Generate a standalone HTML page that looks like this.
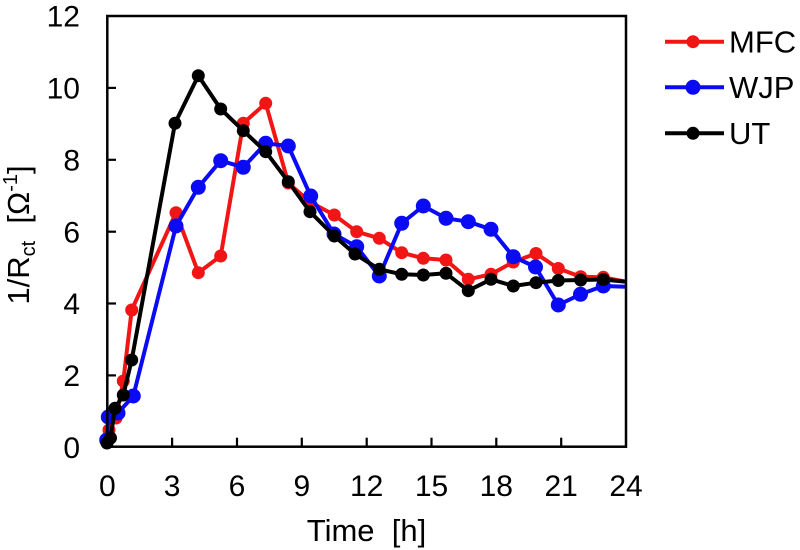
<!DOCTYPE html>
<html><head><meta charset="utf-8"><style>
html,body{margin:0;padding:0;background:#fff;}
svg{display:block;}
text{font-family:"Liberation Sans",Arial,sans-serif;fill:#000;}
</style></head><body>
<svg width="800" height="550" viewBox="0 0 800 550" xmlns="http://www.w3.org/2000/svg">
<rect x="0" y="0" width="800" height="550" fill="#fff"/>
<!-- series MFC -->
<g fill="#f21515" stroke="#f21515">
<polyline fill="none" stroke-width="4" stroke-linejoin="round" points="107,440 109,430 116,418 123.3,381 131.7,310 176,212.7 198.3,272.7 220.7,256 243.3,123.3 265.7,103.3 288.3,183 310,202 334.3,215 356.7,231.7 379.3,238.3 401.7,252.7 423.3,258.3 446,260 468.3,279.3 491,274.3 513.3,262 536,253.5 558.3,268.5 580.7,276.7 603.3,277.3 626,281.7"/>
<g stroke="none">
<circle cx="107" cy="440" r="6.5"/><circle cx="109" cy="430" r="6.5"/><circle cx="116" cy="418" r="6.5"/><circle cx="123.3" cy="381" r="6.5"/><circle cx="131.7" cy="310" r="6.5"/><circle cx="176" cy="212.7" r="6.5"/><circle cx="198.3" cy="272.7" r="6.5"/><circle cx="220.7" cy="256" r="6.5"/><circle cx="243.3" cy="123.3" r="6.5"/><circle cx="265.7" cy="103.3" r="6.5"/><circle cx="288.3" cy="183" r="6.5"/><circle cx="310" cy="202" r="6.5"/><circle cx="334.3" cy="215" r="6.5"/><circle cx="356.7" cy="231.7" r="6.5"/><circle cx="379.3" cy="238.3" r="6.5"/><circle cx="401.7" cy="252.7" r="6.5"/><circle cx="423.3" cy="258.3" r="6.5"/><circle cx="446" cy="260" r="6.5"/><circle cx="468.3" cy="279.3" r="6.5"/><circle cx="491" cy="274.3" r="6.5"/><circle cx="513.3" cy="262" r="6.5"/><circle cx="536" cy="253.5" r="6.5"/><circle cx="558.3" cy="268.5" r="6.5"/><circle cx="580.7" cy="276.7" r="6.5"/><circle cx="603.3" cy="277.3" r="6.5"/>
</g></g>
<!-- series WJP -->
<g fill="#0a0af5" stroke="#0a0af5">
<polyline fill="none" stroke-width="4" stroke-linejoin="round" points="106.7,440 108.3,417 118,413 133.3,396 176,226 198.3,187.3 220.7,160.7 243.3,167.3 265.7,143.3 288.3,146 310.7,196 334,234 356.7,246.7 379.3,276 401.7,223.3 423.3,206 446,218.3 468.3,221.7 491,229.3 513.3,256.7 535.5,267 558.3,305 580.5,294.3 603.3,286 626,286.7"/>
<g stroke="none">
<circle cx="106.7" cy="440" r="7.5"/><circle cx="108.3" cy="417" r="7.5"/><circle cx="118" cy="413" r="7.5"/><circle cx="133.3" cy="396" r="7.5"/><circle cx="176" cy="226" r="7.5"/><circle cx="198.3" cy="187.3" r="7.5"/><circle cx="220.7" cy="160.7" r="7.5"/><circle cx="243.3" cy="167.3" r="7.5"/><circle cx="265.7" cy="143.3" r="7.5"/><circle cx="288.3" cy="146" r="7.5"/><circle cx="310.7" cy="196" r="7.5"/><circle cx="334" cy="234" r="7.5"/><circle cx="356.7" cy="246.7" r="7.5"/><circle cx="379.3" cy="276" r="7.5"/><circle cx="401.7" cy="223.3" r="7.5"/><circle cx="423.3" cy="206" r="7.5"/><circle cx="446" cy="218.3" r="7.5"/><circle cx="468.3" cy="221.7" r="7.5"/><circle cx="491" cy="229.3" r="7.5"/><circle cx="513.3" cy="256.7" r="7.5"/><circle cx="535.5" cy="267" r="7.5"/><circle cx="558.3" cy="305" r="7.5"/><circle cx="580.5" cy="294.3" r="7.5"/><circle cx="603.3" cy="286" r="7.5"/>
</g></g>
<!-- series UT -->
<g fill="#000" stroke="#000">
<polyline fill="none" stroke-width="4" stroke-linejoin="round" points="107,443 110.5,438 115,408.3 123.3,395 131.7,360 175,123.3 198.3,75.7 220.7,109 243.3,130.7 265.7,151.7 288.3,181.7 310,211.7 334.3,236 355,254 379.3,269.3 401.7,274.3 423.3,275 446,273.3 468.3,290.7 491,279.3 513.3,286 536,282.7 558.3,280.5 580.7,280 603.3,279.5 626,281.7"/>
<g stroke="none">
<circle cx="107" cy="443" r="6.5"/><circle cx="110.5" cy="438" r="6.5"/><circle cx="115" cy="408.3" r="6.5"/><circle cx="123.3" cy="395" r="6.5"/><circle cx="131.7" cy="360" r="6.5"/><circle cx="175" cy="123.3" r="6.5"/><circle cx="198.3" cy="75.7" r="6.5"/><circle cx="220.7" cy="109" r="6.5"/><circle cx="243.3" cy="130.7" r="6.5"/><circle cx="265.7" cy="151.7" r="6.5"/><circle cx="288.3" cy="181.7" r="6.5"/><circle cx="310" cy="211.7" r="6.5"/><circle cx="334.3" cy="236" r="6.5"/><circle cx="355" cy="254" r="6.5"/><circle cx="379.3" cy="269.3" r="6.5"/><circle cx="401.7" cy="274.3" r="6.5"/><circle cx="423.3" cy="275" r="6.5"/><circle cx="446" cy="273.3" r="6.5"/><circle cx="468.3" cy="290.7" r="6.5"/><circle cx="491" cy="279.3" r="6.5"/><circle cx="513.3" cy="286" r="6.5"/><circle cx="536" cy="282.7" r="6.5"/><circle cx="558.3" cy="280.5" r="6.5"/><circle cx="580.7" cy="280" r="6.5"/><circle cx="603.3" cy="279.5" r="6.5"/>
</g></g>
<!-- axes box -->
<rect x="107.3" y="16" width="518.7" height="430.7" fill="none" stroke="#000" stroke-width="2.5"/>
<!-- ticks -->
<g stroke="#000" stroke-width="2.2">
<line x1="107" y1="375.4" x2="116" y2="375.4"/>
<line x1="107" y1="303.5" x2="116" y2="303.5"/>
<line x1="107" y1="231.7" x2="116" y2="231.7"/>
<line x1="107" y1="159.8" x2="116" y2="159.8"/>
<line x1="107" y1="87.9" x2="116" y2="87.9"/>
<line x1="172.1" y1="446.7" x2="172.1" y2="437.7"/>
<line x1="237" y1="446.7" x2="237" y2="437.7"/>
<line x1="301.8" y1="446.7" x2="301.8" y2="437.7"/>
<line x1="366.7" y1="446.7" x2="366.7" y2="437.7"/>
<line x1="431.5" y1="446.7" x2="431.5" y2="437.7"/>
<line x1="496.3" y1="446.7" x2="496.3" y2="437.7"/>
<line x1="561.2" y1="446.7" x2="561.2" y2="437.7"/>
</g>
<!-- y tick labels -->
<g font-size="30" text-anchor="end">
<text x="80" y="458">0</text>
<text x="80" y="386.1">2</text>
<text x="80" y="314.2">4</text>
<text x="80" y="242.4">6</text>
<text x="80" y="170.5">8</text>
<text x="80" y="98.6">10</text>
<text x="80" y="26.7">12</text>
</g>
<!-- x tick labels -->
<g font-size="30" text-anchor="middle">
<text x="107.3" y="496">0</text>
<text x="172.1" y="496">3</text>
<text x="237" y="496">6</text>
<text x="301.8" y="496">9</text>
<text x="366.7" y="496">12</text>
<text x="431.5" y="496">15</text>
<text x="496.3" y="496">18</text>
<text x="561.2" y="496">21</text>
<text x="626" y="496">24</text>
</g>
<!-- axis titles -->
<text x="366.5" y="541" font-size="31" text-anchor="middle" style="white-space:pre">Time  [h]</text>
<text transform="translate(29,235) rotate(-90)" font-size="31" text-anchor="middle" style="white-space:pre">1/R<tspan font-size="20" dy="6">ct</tspan><tspan dy="-6">  [Ω</tspan><tspan font-size="20" dy="-12">-1</tspan><tspan dy="12">]</tspan></text>
<!-- legend -->
<line x1="665" y1="41.7" x2="724" y2="41.7" stroke="#f21515" stroke-width="4"/>
<circle cx="693" cy="41.7" r="6.5" fill="#f21515"/>
<line x1="665" y1="87.3" x2="724" y2="87.3" stroke="#0a0af5" stroke-width="4"/>
<circle cx="693" cy="87.3" r="7.5" fill="#0a0af5"/>
<line x1="665" y1="133.3" x2="724" y2="133.3" stroke="#000" stroke-width="4"/>
<circle cx="693" cy="133.3" r="6.5" fill="#000"/>
<g font-size="31">
<text x="729" y="52.5">MFC</text>
<text x="729" y="98">WJP</text>
<text x="729" y="144">UT</text>
</g>
</svg>
</body></html>
